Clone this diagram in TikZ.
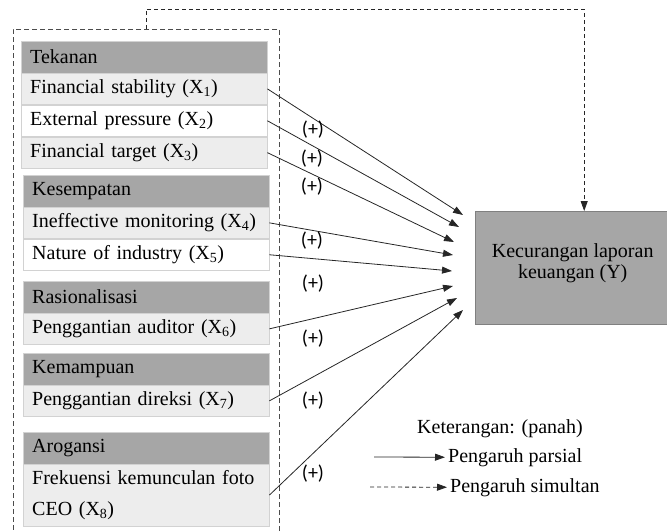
\documentclass[tikz,border=0pt]{standalone}
\usepackage{fontspec}
\setmainfont{Liberation Serif}
\newfontfamily\labelfont{Carlito}
\usetikzlibrary{positioning,arrows.meta}
\definecolor{hdrgray}{HTML}{A6A6A6}
\definecolor{rowgray}{HTML}{EDEDED}
\definecolor{edgegray}{HTML}{D2D2D2}

\begin{document}
\begin{tikzpicture}[
  x=1pt, y=-1pt,
  every node/.style = {font=\fontsize{20}{31}\selectfont},
  hdr/.style     = {rectangle, draw=edgegray, fill=hdrgray, text width=228pt,
                    inner xsep=9pt, inner ysep=0pt, minimum height=31.5pt,
                    align=left},
  var/.style     = {hdr, fill=rowgray},
  varw/.style    = {hdr, fill=white},
  grpbox/.style  = {rectangle, draw=black!70, dash pattern=on 5pt off 3pt,
                    minimum width=266pt, minimum height=516pt, inner sep=0pt},
  ybox/.style    = {rectangle, draw=black!50, fill=hdrgray, minimum width=195pt,
                    minimum height=113pt, align=center, text depth=14pt,
                    font=\fontsize{20}{21}\selectfont},
  arr/.style     = {-{Triangle[length=10pt,width=7pt]}, line width=0.8pt, black!85},
  simarr/.style  = {arr, dash pattern=on 4pt off 3pt},
  plus/.style    = {font=\labelfont\fontsize{20}{20}\selectfont},
  legend/.style  = {inner sep=3pt, anchor=base west},
]
\useasboundingbox (0,0) rectangle (667,531);

\node[grpbox, anchor=north west] (frame) at (13,29) {};
\node[ybox, anchor=north west]   (kec)   at (475,211) {Kecurangan laporan\\ keuangan (Y)};

% Tekanan
\node[hdr, anchor=north west] (tek) at (21,41) {Tekanan};
\node[var,  below=0pt of tek] (x1) {Financial stability (X\textsubscript{1})};
\node[varw, below=0pt of x1]  (x2) {External pressure (X\textsubscript{2})};
\node[var,  below=0pt of x2]  (x3) {Financial target (X\textsubscript{3})};
% Kesempatan
\node[hdr, anchor=north west] (kes) at (23,175) {Kesempatan};
\node[var,  below=0pt of kes] (x4) {Ineffective monitoring (X\textsubscript{4})};
\node[varw, below=0pt of x4]  (x5) {Nature of industry (X\textsubscript{5})};
% Rasionalisasi
\node[hdr, anchor=north west] (ras) at (23,281) {Rasionalisasi};
\node[var,  below=0pt of ras] (x6) {Penggantian auditor (X\textsubscript{6})};
% Kemampuan
\node[hdr, anchor=north west] (kem) at (23,353) {Kemampuan};
\node[var,  below=0pt of kem] (x7) {Penggantian direksi (X\textsubscript{7})};
% Arogansi
\node[hdr, anchor=north west] (aro) at (23,432) {Arogansi};
\node[var,  below=0pt of aro, minimum height=62pt] (x8)
  {Frekuensi kemunculan foto\\ CEO (X\textsubscript{8})};

\coordinate (t1) at (463,215);
\coordinate (t2) at (459,227);
\coordinate (t3) at (454,242);
\coordinate (t4) at (453,255);
\coordinate (t5) at (452,271);
\coordinate (t6) at (453,286);
\coordinate (t7) at (457,298);
\coordinate (t8) at (463,310);
\draw[arr] (x1.east) -- (t1);
\draw[arr] (x2.east) -- (t2);
\draw[arr] (x3.east) -- (t3);
\draw[arr] (x4.east) -- (t4);
\draw[arr] (x5.east) -- (t5);
\draw[arr] (x6.east) -- (t6);
\draw[arr] (x7.east) -- (t7);
\draw[arr] (x8.east) -- (t8);

\node[plus] (p1) at (313,130) {(+)};
\node[plus] (p2) at (312,159) {(+)};
\node[plus] (p3) at (312,187) {(+)};
\node[plus] (p4) at (312,241) {(+)};
\node[plus] (p5) at (313,284) {(+)};
\node[plus] (p6) at (313,339) {(+)};
\node[plus] (p7) at (313,401) {(+)};
\node[plus] (p8) at (313,474) {(+)};

% simultaneous effect
\draw[simarr] (frame.north) -- ++(0,-20) -| ([xshift=11.5pt]kec.north);

% legend
\node[legend] (ket)  at (414,433) {Keterangan: (panah)};
\node[legend] (pars) at (445,462) {Pengaruh parsial};
\node[legend] (simu) at (447,492) {Pengaruh simultan};
\coordinate (lpa) at (374,457);
\coordinate (lsa) at (370,487);
\draw[arr] (lpa) -- (pars.west);
\draw[simarr] (lsa) -- (simu.west);
\end{tikzpicture}
\end{document}
